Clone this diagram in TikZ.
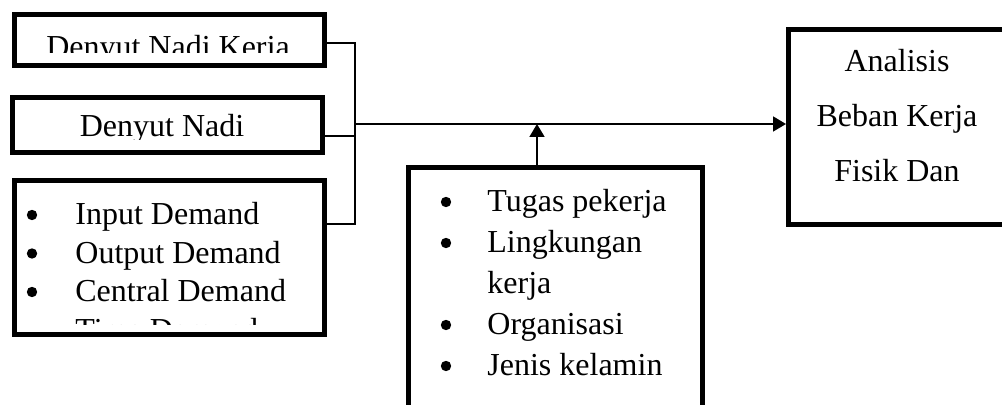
\documentclass[tikz,border=0pt]{standalone}
\usepackage{fontspec}
\setmainfont{Liberation Serif}
\usetikzlibrary{arrows.meta}

\tikzset{
	kotak/.style={draw, line width=2.5pt, inner sep=0pt},
	teks/.style={inner sep=0pt, font=\fontsize{16}{19}\selectfont},
	titik/.style={circle, fill=black, inner sep=0pt, minimum size=5.2pt},
	garis/.style={line width=0.9pt},
	panah/.style={garis, -{Triangle[length=6.5pt,width=7.5pt]}}
}

\begin{document}
\begin{tikzpicture}[x=0.5pt, y=-0.5pt]
			\useasboundingbox (0,0) rectangle (1002,405);
			\clip (0,0) rectangle (1002,405);
			
			% Kotak kiri
			\node[kotak, minimum width=155pt, minimum height=25.25pt] (kerja) at (169.5,40.25) {};
			\node[kotak, minimum width=155pt, minimum height=27.5pt] (nadi) at (167.5,125.5) {};
			\node[kotak, minimum width=155pt, minimum height=77pt] (demand) at (169.5,257.5) {};
			
			% Kotak bawah dan kanan
			\node[kotak, minimum width=147pt, minimum height=136.25pt] (faktor) at (555.5,303.75) {};
			\node[kotak, minimum width=125.75pt, minimum height=97.5pt] (analisis) at (914.25,127) {};
			
			% Teks yang terpotong
			\begin{scope}
				\clip (17,17) rectangle (322,53);
				\node[teks, anchor=base] (t1) at (168,58) {Denyut Nadi Kerja};
			\end{scope}
			\begin{scope}
				\clip (15,100) rectangle (320,140);
				\node[teks, anchor=base] (t2) at (162,137) {Denyut Nadi};
			\end{scope}
			\begin{scope}
				\clip (17,183) rectangle (322,325);
				\foreach \y/\isi [count=\i] in {
					225/Input Demand,
					263.5/Output Demand,
					302/Central Demand,
					340.5/Time Demand} {
					\node[titik] (db\i) at (32,\y-10) {};
					\node[teks, anchor=base west] (d\i) at (75,\y) {\isi};
				}
			\end{scope}
			
			% Daftar faktor
			\foreach \y/\isi [count=\i] in {
				212/Tugas pekerja,
				253/Lingkungan,
				335/Organisasi,
				376/Jenis kelamin} {
				\node[titik] (fb\i) at (446,\y-10) {};
				\node[teks, anchor=base west] (f\i) at (487,\y) {\isi};
			}
			\node[teks, anchor=base west] (f5) at (487,294) {kerja};
			
			% Teks analisis
			\node[teks, anchor=base] (a1) at (897,72) {Analisis};
			\node[teks, anchor=base] (a2) at (897,127) {Beban Kerja};
			\node[teks, anchor=base] (a3) at (897,182) {Fisik Dan};
			
			% Garis penghubung
			\coordinate (b1) at (355,43);
			\coordinate (b2) at (355,136);
			\coordinate (b3) at (355,224);
			\coordinate (hub) at (355,124);
			\coordinate (naik) at (537,124);
			\draw[garis] (kerja.east |- b1) -- (b1) -- (b3) -- (demand.east |- b3);
			\draw[garis] (nadi.east |- b2) -- (b2);
			\draw[panah] (hub) -- (analisis.west |- hub);
			\draw[panah] (faktor.north -| naik) -- (naik);
		\end{tikzpicture}
\end{document}
